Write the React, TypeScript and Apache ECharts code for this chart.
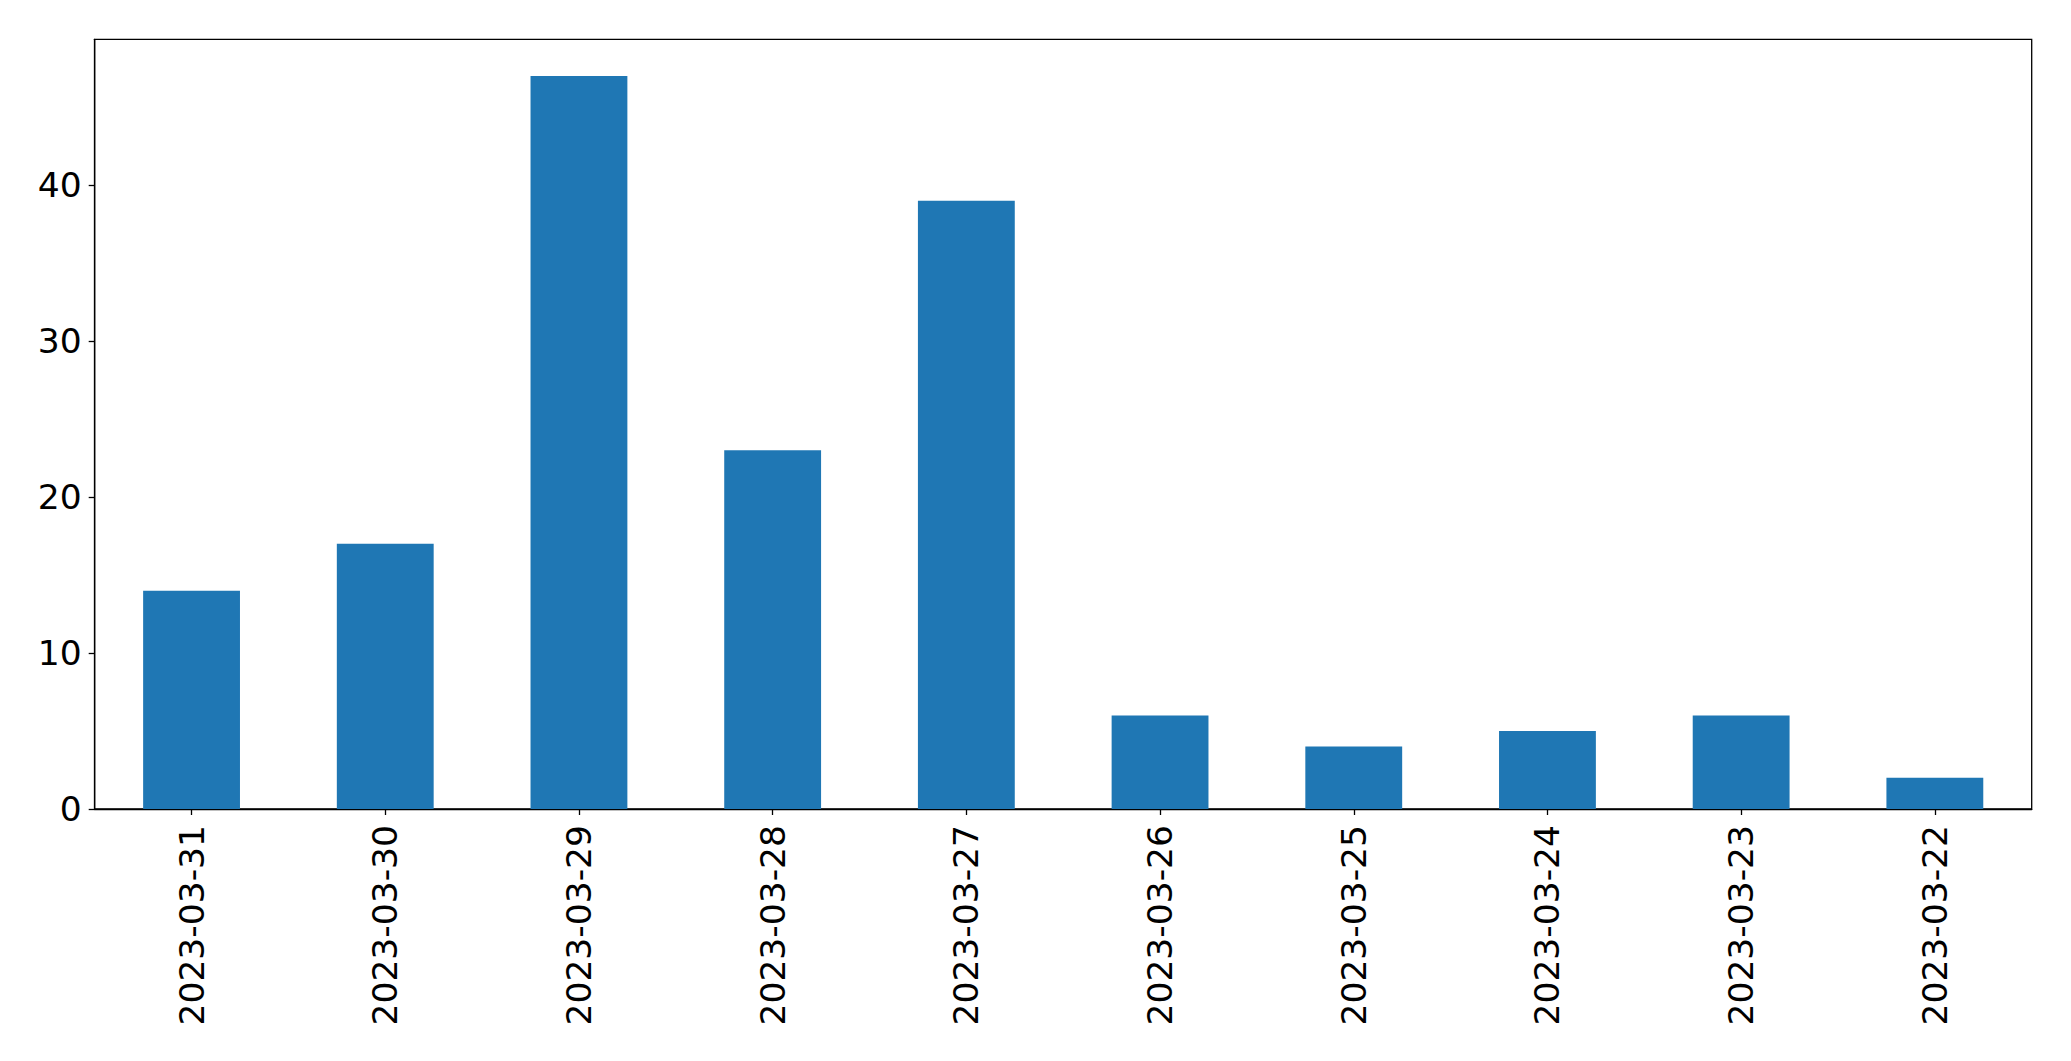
import React, { useEffect, useRef } from "react";
import * as echarts from "echarts";

const categories = [
  "2023-03-31",
  "2023-03-30",
  "2023-03-29",
  "2023-03-28",
  "2023-03-27",
  "2023-03-26",
  "2023-03-25",
  "2023-03-24",
  "2023-03-23",
  "2023-03-22",
];
const values = [14, 17, 47, 23, 39, 6, 4, 5, 6, 2];
const yTicks = [0, 10, 20, 30, 40];
const yMax = 49.35;

export default function App() {
  const ref = useRef<HTMLDivElement>(null);
  useEffect(() => {
    if (!ref.current) return;
    const chart = echarts.init(ref.current, undefined, { renderer: "svg" });
    const font = "DejaVu Sans";
    chart.setOption({
      animation: false,
      backgroundColor: "#ffffff",
      grid: {
        left: 94.7,
        right: 39.3,
        top: 39.3,
        bottom: 252,
        show: true,
        borderColor: "#000000",
        borderWidth: 1.3,
        containLabel: false,
      },
      xAxis: {
        type: "category",
        data: categories,
        boundaryGap: true,
        axisLine: { show: true, lineStyle: { color: "#000", width: 1.3 } },
        axisTick: { show: true, alignWithLabel: true, length: 6, lineStyle: { color: "#000", width: 1.3 } },
        axisLabel: {
          rotate: 90,
          interval: 0,
          margin: 16,
          color: "#000",
          fontFamily: font,
          fontSize: 34.5,
        },
        splitLine: { show: false },
      },
      yAxis: {
        type: "value",
        min: 0,
        max: yMax,
        interval: 10,
        axisLine: { show: true, lineStyle: { color: "#000", width: 1.3 } },
        axisTick: { show: true, length: 6, customValues: yTicks, lineStyle: { color: "#000", width: 1.3 } },
        axisLabel: {
          customValues: yTicks,
          margin: 13,
          color: "#000",
          fontFamily: font,
          fontSize: 34.5,
        },
        splitLine: { show: false },
      },
      series: [
        {
          type: "bar",
          data: values,
          barWidth: "50%",
          itemStyle: { color: "#1f77b4" },
        },
      ],
    });
    return () => chart.dispose();
  }, []);
  return (
    <div
      ref={ref}
      style={{ position: "fixed", left: 0, top: 0, width: "2071px", height: "1061px", background: "#fff" }}
    />
  );
}
